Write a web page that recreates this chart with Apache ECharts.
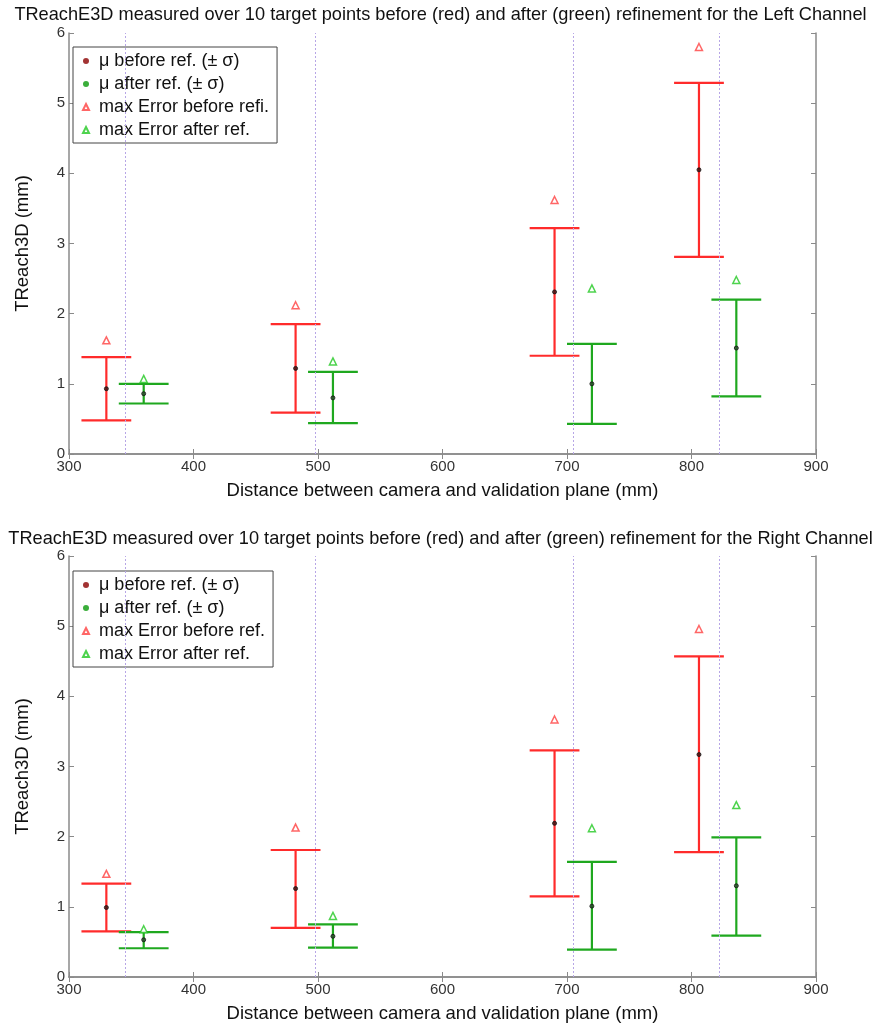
<!DOCTYPE html>
<html>
<head>
<meta charset="utf-8">
<script src="https://cdn.jsdelivr.net/npm/echarts@6/dist/echarts.min.js"></script>
<style>
  html, body { margin: 0; padding: 0; background: #fff; }
  #chart { width: 881px; height: 1024px; }
</style>
</head>
<body>
<div id="chart"></div>
<script>
  // x positions (mm)
  var xBefore = [330, 482, 690, 806];
  var xAfter = [360, 512, 720, 836];
  var refLines = [345, 498, 705, 822];

  // Left channel
  var leftBeforeMean = [0.93, 1.22, 2.31, 4.05];
  var leftBeforeLow = [0.48, 0.59, 1.40, 2.81];
  var leftBeforeHigh = [1.38, 1.85, 3.22, 5.29];
  var leftBeforeMax = [1.62, 2.12, 3.62, 5.80];
  var leftAfterMean = [0.86, 0.80, 1.00, 1.51];
  var leftAfterLow = [0.72, 0.44, 0.43, 0.82];
  var leftAfterHigh = [1.00, 1.17, 1.57, 2.20];
  var leftAfterMax = [1.07, 1.32, 2.36, 2.48];

  // Right channel
  var rightBeforeMean = [0.99, 1.26, 2.19, 3.17];
  var rightBeforeLow = [0.65, 0.70, 1.15, 1.78];
  var rightBeforeHigh = [1.33, 1.81, 3.23, 4.57];
  var rightBeforeMax = [1.47, 2.13, 3.67, 4.96];
  var rightAfterMean = [0.53, 0.58, 1.01, 1.30];
  var rightAfterLow = [0.41, 0.42, 0.39, 0.59];
  var rightAfterHigh = [0.64, 0.75, 1.64, 1.99];
  var rightAfterMax = [0.68, 0.87, 2.12, 2.45];

  var xTicks = [300, 400, 500, 600, 700, 800, 900];
  var yTicks = [0, 1, 2, 3, 4, 5, 6];

  var RED = '#ff2b2b';
  var GREEN = '#1fa81f';
  var FONT = 'Liberation Sans, Arial, sans-serif';

  var chart = echarts.init(document.getElementById('chart'));

  function zip(xs, a, b) {
    return xs.map(function (x, i) { return b ? [x, a[i], b[i]] : [x, a[i]]; });
  }

  // 误差棒
  function errorBar(color) {
    return function (params, api) {
      var x = api.value(0);
      var lo = api.coord([x, api.value(1)]);
      var hi = api.coord([x, api.value(2)]);
      var half = api.coord([x + 20, api.value(1)])[0] - lo[0];
      var style = { stroke: color, lineWidth: 2.2 };
      return {
        type: 'group',
        children: [
          { type: 'line', shape: { x1: lo[0], y1: lo[1], x2: hi[0], y2: hi[1] }, style: style },
          { type: 'line', shape: { x1: lo[0] - half, y1: lo[1], x2: lo[0] + half, y2: lo[1] }, style: style },
          { type: 'line', shape: { x1: hi[0] - half, y1: hi[1], x2: hi[0] + half, y2: hi[1] }, style: style }
        ]
      };
    };
  }

  var grids = [
    { left: 69, right: 65, top: 33, height: 421 },
    { left: 69, right: 65, top: 556, height: 424 }
  ];

  var xAxes = [], yAxes = [], series = [], titles = [], legends = [];

  var panels = [
    {
      title: 'TReachE3D measured over 10 target points before (red) and after (green) refinement for the Left Channel',
      bm: leftBeforeMean, bl: leftBeforeLow, bh: leftBeforeHigh, bx: leftBeforeMax,
      am: leftAfterMean, al: leftAfterLow, ah: leftAfterHigh, ax: leftAfterMax,
      maxBeforeName: 'max Error before refi.'
    },
    {
      title: 'TReachE3D measured over 10 target points before (red) and after (green) refinement for the Right Channel',
      bm: rightBeforeMean, bl: rightBeforeLow, bh: rightBeforeHigh, bx: rightBeforeMax,
      am: rightAfterMean, al: rightAfterLow, ah: rightAfterHigh, ax: rightAfterMax,
      maxBeforeName: 'max Error before ref.'
    }
  ];

  panels.forEach(function (p, g) {
    var axisLine = { show: true, lineStyle: { color: '#8a8a8a', width: 1.5 } };
    var tick = { show: true, inside: true, length: 5, lineStyle: { color: '#8a8a8a' } };
    xAxes.push({
      gridIndex: g, type: 'value', min: xTicks[0], max: xTicks[xTicks.length - 1], interval: 100,
      axisLine: axisLine, axisTick: tick, splitLine: { show: false },
      axisLabel: { color: '#333', fontSize: 15, fontFamily: FONT, margin: 5 },
      name: 'Distance between camera and validation plane (mm)', nameLocation: 'middle', nameGap: 27,
      nameTextStyle: { color: '#111', fontSize: 18.5, fontFamily: FONT }
    });
    xAxes.push({
      gridIndex: g, type: 'value', position: 'top', min: xTicks[0], max: xTicks[xTicks.length - 1], interval: 100,
      axisLine: axisLine, axisTick: tick, splitLine: { show: false }, axisLabel: { show: false }
    });
    yAxes.push({
      gridIndex: g, type: 'value', min: yTicks[0], max: yTicks[yTicks.length - 1], interval: 1,
      axisLine: axisLine, axisTick: tick, splitLine: { show: false },
      axisLabel: { color: '#333', fontSize: 15, fontFamily: FONT, margin: 4 },
      name: 'TReach3D (mm)', nameLocation: 'middle', nameGap: 37,
      nameTextStyle: { color: '#111', fontSize: 18.5, fontFamily: FONT }
    });
    yAxes.push({
      gridIndex: g, type: 'value', position: 'right', min: yTicks[0], max: yTicks[yTicks.length - 1], interval: 1,
      axisLine: axisLine, axisTick: tick, splitLine: { show: false }, axisLabel: { show: false }
    });

    var xi = g * 2, yi = g * 2;

    titles.push({
      text: p.title, left: 'center', top: g === 0 ? 1 : 525,
      textStyle: { color: '#111', fontSize: 18.2, fontWeight: 'normal', fontFamily: FONT }
    });

    // 参考竖线
    series.push({
      type: 'line', xAxisIndex: xi, yAxisIndex: yi, data: [], silent: true,
      markLine: {
        symbol: 'none', silent: true, label: { show: false },
        lineStyle: { color: '#b7a6e6', type: [2, 2], width: 1 },
        data: refLines.map(function (v) { return { xAxis: v }; })
      }
    });

    series.push({
      type: 'custom', xAxisIndex: xi, yAxisIndex: yi, renderItem: errorBar(RED),
      data: zip(xBefore, p.bl, p.bh), z: 2
    });
    series.push({
      type: 'custom', xAxisIndex: xi, yAxisIndex: yi, renderItem: errorBar(GREEN),
      data: zip(xAfter, p.al, p.ah), z: 2
    });
    series.push({
      name: 'μ before ref. (± σ)', type: 'scatter', xAxisIndex: xi, yAxisIndex: yi,
      symbol: 'circle', symbolSize: 4, z: 5,
      itemStyle: { color: '#3a1010', borderColor: '#111', borderWidth: 1 },
      data: zip(xBefore, p.bm)
    });
    series.push({
      name: 'μ after ref. (± σ)', type: 'scatter', xAxisIndex: xi, yAxisIndex: yi,
      symbol: 'circle', symbolSize: 4, z: 5,
      itemStyle: { color: '#2a4a2a', borderColor: '#111', borderWidth: 1 },
      data: zip(xAfter, p.am)
    });
    series.push({
      name: p.maxBeforeName, type: 'scatter', xAxisIndex: xi, yAxisIndex: yi,
      symbol: 'triangle', symbolSize: 7, z: 5,
      itemStyle: { color: '#fff', borderColor: '#ff4040', borderWidth: 1.5 },
      data: zip(xBefore, p.bx)
    });
    series.push({
      name: 'max Error after ref.', type: 'scatter', xAxisIndex: xi, yAxisIndex: yi,
      symbol: 'triangle', symbolSize: 7, z: 5,
      itemStyle: { color: '#fff', borderColor: '#22c822', borderWidth: 1.5 },
      data: zip(xAfter, p.ax)
    });

    legends.push({
      left: 73, top: g === 0 ? 47 : 571, width: 200,
      orient: 'vertical', itemGap: 5, itemWidth: 6, itemHeight: 6,
      padding: [5, 8, 4, 9],
      borderColor: '#444', borderWidth: 1, backgroundColor: '#fff',
      textStyle: { color: '#111', fontSize: 18, fontFamily: FONT, padding: [0, 0, 0, 5] },
      data: [
        { name: 'μ before ref. (± σ)', icon: 'circle', itemStyle: { color: '#8b0000', borderWidth: 0 } },
        { name: 'μ after ref. (± σ)', icon: 'circle', itemStyle: { color: '#0a9a0a', borderWidth: 0 } },
        { name: p.maxBeforeName, icon: 'triangle' },
        { name: 'max Error after ref.', icon: 'triangle' }
      ]
    });
  });

  var option = {
    backgroundColor: '#fff',
    animation: false,
    title: titles,
    legend: legends,
    grid: grids,
    xAxis: xAxes,
    yAxis: yAxes,
    series: series
  };
  chart.setOption(option);
</script>
</body>
</html>
